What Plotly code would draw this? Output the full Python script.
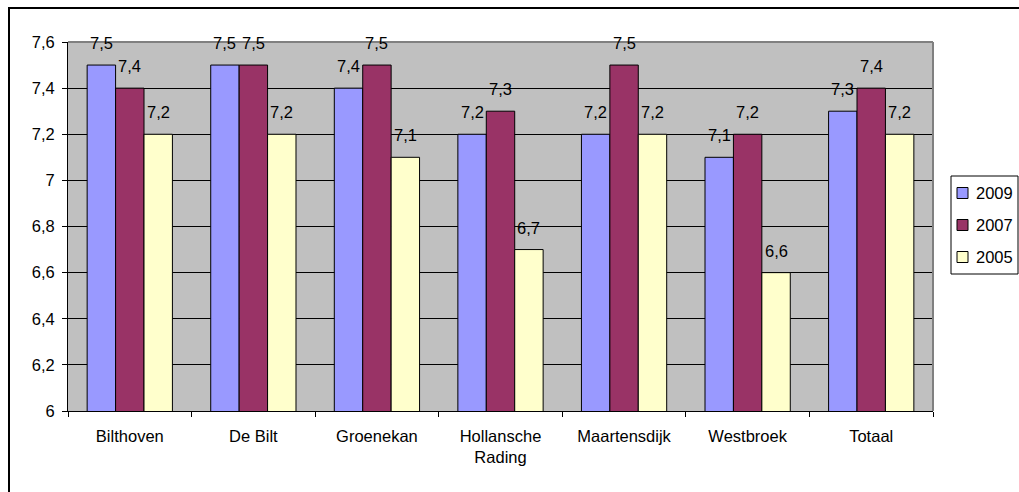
import plotly.graph_objects as go

# Scores per location and survey year
locations = ["Bilthoven", "De Bilt", "Groenekan", "Hollansche<br>Rading",
             "Maartensdijk", "Westbroek", "Totaal"]
scores_2009 = [7.5, 7.5, 7.4, 7.2, 7.2, 7.1, 7.3]
scores_2007 = [7.4, 7.5, 7.5, 7.3, 7.5, 7.2, 7.4]
scores_2005 = [7.2, 7.2, 7.1, 6.7, 7.2, 6.6, 7.2]
years = ["2009", "2007", "2005"]
y_ticks = [6.0, 6.2, 6.4, 6.6, 6.8, 7.0, 7.2, 7.4, 7.6]

colors = ["#9999FF", "#993366", "#FFFFCC"]
all_scores = [scores_2009, scores_2007, scores_2005]

FONT = "Liberation Sans, Arial, sans-serif"
FS = 16.5
BARGAP = 0.31


def nl(v):
    return f"{v:g}".replace(".", ",")


W, H = 1019, 492
L, R, T, B = 68, 933, 42, 411
pw, ph = R - L, B - T


def px(x):
    return (x - L) / pw


def py(y):
    return (B - y) / ph


fig = go.Figure()
for name, vals, color in zip(years, all_scores, colors):
    fig.add_trace(go.Bar(
        x=locations, y=vals, name=name,
        marker=dict(color=color, line=dict(color="black", width=1)),
        showlegend=False,
    ))

# value labels above each bar
annotations = []
bar_w = (1 - BARGAP) / len(years)
for j, vals in enumerate(all_scores):
    off = (j - (len(years) - 1) / 2) * bar_w
    for i, v in enumerate(vals):
        annotations.append(dict(
            x=i + off, y=v, xref="x", yref="y", text=nl(v),
            showarrow=False, xanchor="center", yanchor="bottom", yshift=11,
            font=dict(family=FONT, size=FS, color="black"),
        ))

# legend box drawn in pixel layout
shapes = [
    dict(type="rect", xref="paper", yref="paper",
         x0=px(951), x1=px(1018), y0=py(176), y1=py(274),
         line=dict(color="black", width=1), fillcolor="white"),
]
for k, (name, color) in enumerate(zip(years, colors)):
    cy = 193 + 32 * k
    shapes.append(dict(type="rect", xref="paper", yref="paper",
                       x0=px(957), x1=px(968), y0=py(cy + 5.5), y1=py(cy - 5.5),
                       line=dict(color="black", width=1), fillcolor=color))
    annotations.append(dict(x=px(974), y=py(cy), xref="paper", yref="paper",
                            text=name, showarrow=False, xanchor="left",
                            yanchor="middle",
                            font=dict(family=FONT, size=FS, color="black")))

shapes += [
    # plot-area frame on top and right
    dict(type="line", xref="paper", yref="paper", x0=0, x1=1, y0=1, y1=1,
         line=dict(color="#808080", width=2)),
    dict(type="line", xref="paper", yref="paper", x0=1, x1=1, y0=0, y1=1,
         line=dict(color="#808080", width=2)),
    # outer chart border
    dict(type="rect", xref="paper", yref="paper",
         x0=px(9), x1=px(1040), y0=py(8), y1=py(520),
         line=dict(color="black", width=2), layer="above"),
]

fig.update_layout(
    width=W, height=H,
    margin=dict(l=L, r=W - R, t=T, b=H - B),
    paper_bgcolor="white",
    plot_bgcolor="#C0C0C0",
    barmode="group", bargap=BARGAP, bargroupgap=0,
    separators=",.",
    font=dict(family=FONT, size=FS, color="black"),
    showlegend=False,
    xaxis=dict(
        showgrid=False, showline=True, linecolor="black", linewidth=1,
        ticks="outside", tickson="boundaries", ticklen=5, tickcolor="black",
        tickfont=dict(family=FONT, size=FS), ticklabelstandoff=10,
    ),
    yaxis=dict(
        range=[6, 7.6], tickvals=y_ticks,
        ticktext=[nl(v) for v in y_ticks],
        showgrid=True, gridcolor="black", gridwidth=1,
        showline=True, linecolor="black", linewidth=1,
        ticks="outside", ticklen=5, tickcolor="black",
        tickfont=dict(family=FONT, size=FS), zeroline=False,
        ticklabelstandoff=4,
    ),
    shapes=shapes,
    annotations=annotations,
)

fig.write_html("out.html")
